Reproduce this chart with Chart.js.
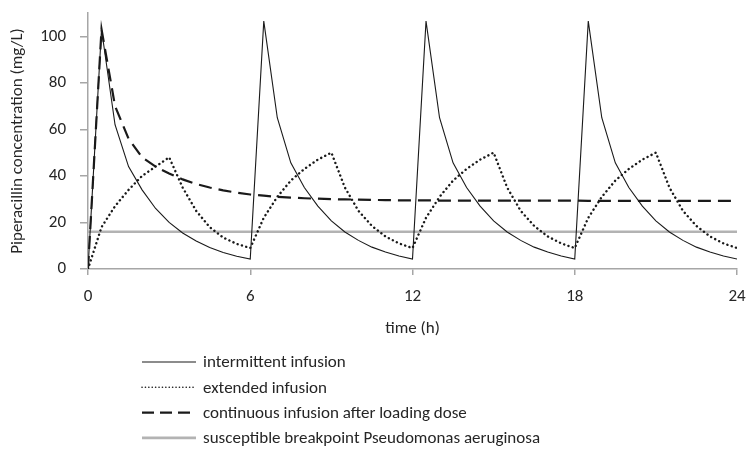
<!DOCTYPE html>
<html>
<head>
<meta charset="utf-8">
<script src="https://cdn.jsdelivr.net/npm/chart.js@4.4.1/dist/chart.umd.min.js"></script>
<style>
  body { margin: 0; background: #fff; }
  canvas { display: block; }
</style>
</head>
<body>
<canvas id="myChart" width="748" height="450"></canvas>
<script>
const hours = [0, 0.5, 1, 1.5, 2, 2.5, 3, 3.5, 4, 4.5, 5, 5.5, 6,
    6.5, 7, 7.5, 8, 8.5, 9, 9.5, 10, 10.5, 11, 11.5, 12,
    12.5, 13, 13.5, 14, 14.5, 15, 15.5, 16, 16.5, 17, 17.5, 18,
    18.5, 19, 19.5, 20, 20.5, 21, 21.5, 22, 22.5, 23, 23.5, 24];

const intermittent = [0, 103, 62, 44, 34, 26, 20, 15.5, 12, 9.2, 7.1, 5.5, 4.3,
    106.5, 65, 45.6, 35, 27, 20.7, 15.9, 12.3, 9.4, 7.3, 5.6, 4.3,
    106.5, 65, 45.6, 35, 27, 20.7, 15.9, 12.3, 9.4, 7.3, 5.6, 4.3,
    106.5, 65, 45.6, 35, 27, 20.7, 15.9, 12.3, 9.4, 7.3, 5.6, 4.3];

const extended = [0, 18, 27, 34, 40, 44, 48, 35, 25, 18, 13.5, 10.8, 9,
    22, 31, 38, 43, 47, 50, 35, 25, 18.5, 14, 11, 9,
    22, 31, 38, 43, 47, 50, 35, 25, 18.5, 14, 11, 9,
    22, 31, 38, 43, 47, 50, 35, 25, 18.5, 14, 11, 9];

const continuous = [0, 103, 70, 56, 48, 44, 41, 38.5, 36.5, 35, 33.8, 32.8, 32,
    31.5, 31, 30.7, 30.4, 30.2, 30, 29.9, 29.8, 29.7, 29.6, 29.5, 29.5,
    29.5, 29.4, 29.4, 29.4, 29.4, 29.4, 29.4, 29.4, 29.4, 29.4, 29.4, 29.4,
    29.3, 29.3, 29.3, 29.3, 29.3, 29.3, 29.3, 29.3, 29.3, 29.3, 29.3, 29.3];

const breakpoint = [16, 16, 16, 16, 16, 16, 16, 16, 16, 16, 16, 16, 16,
    16, 16, 16, 16, 16, 16, 16, 16, 16, 16, 16, 16,
    16, 16, 16, 16, 16, 16, 16, 16, 16, 16, 16, 16,
    16, 16, 16, 16, 16, 16, 16, 16, 16, 16, 16, 16];

const seriesNames = [
    "intermittent infusion",
    "extended infusion",
    "continuous infusion after loading dose",
    "susceptible breakpoint Pseudomonas aeruginosa"
];
const xTicks = [0, 6, 12, 18, 24];
const yTicks = [0, 20, 40, 60, 80, 100];

const FONT = "Carlito, Lato, sans-serif";
const FSIZE = 17;
const axisGrey = "#a6a6a6";
const textColor = "#262626";

function points(values) {
    return values.map((v, i) => ({ x: hours[i], y: v }));
}

// legend drawn by hand: one line sample per row under the x axis title
const legendRows = {
    id: "legendRows",
    afterDraw(chart) {
        const ctx = chart.ctx;
        const left = chart.chartArea.left + 54;
        ctx.save();
        chart.data.datasets.forEach((ds, i) => {
            const y = 362 + i * 25.3;
            ctx.beginPath();
            ctx.strokeStyle = ds.borderColor;
            ctx.lineWidth = i == 1 ? 1.6 : ds.borderWidth;
            ctx.lineCap = ds.borderCapStyle || "butt";
            ctx.setLineDash(i == 1 ? [0.1, 3.3] : (i == 2 ? [12, 6] : []));
            ctx.moveTo(left, y);
            ctx.lineTo(left + 54, y);
            ctx.stroke();
            ctx.setLineDash([]);
            ctx.fillStyle = textColor;
            ctx.font = FSIZE + "px " + FONT;
            ctx.textBaseline = "middle";
            ctx.fillText(ds.label, left + 61, y + 1);
        });
        ctx.restore();
    }
};

new Chart("myChart", {
    type: "line",
    data: {
        datasets: [{
            label: seriesNames[0],
            data: points(intermittent),
            borderColor: "#1a1a1a",
            borderWidth: 1.1,
            pointRadius: 0,
            fill: false
        }, {
            label: seriesNames[1],
            data: points(extended),
            borderColor: "#1a1a1a",
            borderWidth: 2.4,
            borderDash: [0.1, 4.4],
            borderCapStyle: "round",
            pointRadius: 0,
            fill: false
        }, {
            label: seriesNames[2],
            data: points(continuous),
            borderColor: "#1a1a1a",
            borderWidth: 2.2,
            borderDash: [13, 7],
            pointRadius: 0,
            fill: false
        }, {
            label: seriesNames[3],
            data: points(breakpoint),
            borderColor: "#b3b3b3",
            borderWidth: 2.6,
            pointRadius: 0,
            fill: false
        }]
    },
    plugins: [legendRows],
    options: {
        responsive: false,
        animation: false,
        layout: {
            padding: { top: 13, right: 11, bottom: 111, left: 0 }
        },
        plugins: {
            legend: { display: false },
            tooltip: { enabled: false }
        },
        scales: {
            x: {
                type: "linear",
                min: 0,
                max: 24,
                afterBuildTicks: scale => { scale.ticks = xTicks.map(v => ({ value: v })); },
                afterFit: scale => {
                    scale.height = 70;
                    scale.paddingLeft = 0;
                    scale.paddingRight = 0;
                },
                ticks: {
                    color: textColor,
                    font: { family: FONT, size: FSIZE },
                    padding: 12,
                    maxRotation: 0
                },
                grid: {
                    drawOnChartArea: false,
                    tickLength: 6,
                    color: axisGrey,
                    lineWidth: 1.5
                },
                border: { color: axisGrey, width: 1.5 },
                title: {
                    display: true,
                    text: "time (h)",
                    color: textColor,
                    font: { family: FONT, size: FSIZE },
                    padding: { top: 6, bottom: 0 }
                }
            },
            y: {
                min: 0,
                max: 110,
                afterBuildTicks: scale => { scale.ticks = yTicks.map(v => ({ value: v })); },
                afterFit: scale => {
                    scale.width = 88;
                    scale.paddingTop = 0;
                    scale.paddingBottom = 0;
                },
                ticks: {
                    color: textColor,
                    font: { family: FONT, size: FSIZE },
                    padding: 14
                },
                grid: {
                    drawOnChartArea: false,
                    tickLength: 8,
                    color: axisGrey,
                    lineWidth: 1.5
                },
                border: { color: axisGrey, width: 1.5 },
                title: {
                    display: true,
                    text: "Piperacillin concentration (mg/L)",
                    color: textColor,
                    font: { family: FONT, size: FSIZE },
                    padding: { top: 8, bottom: 2 }
                }
            }
        }
    }
});
</script>
</body>
</html>
